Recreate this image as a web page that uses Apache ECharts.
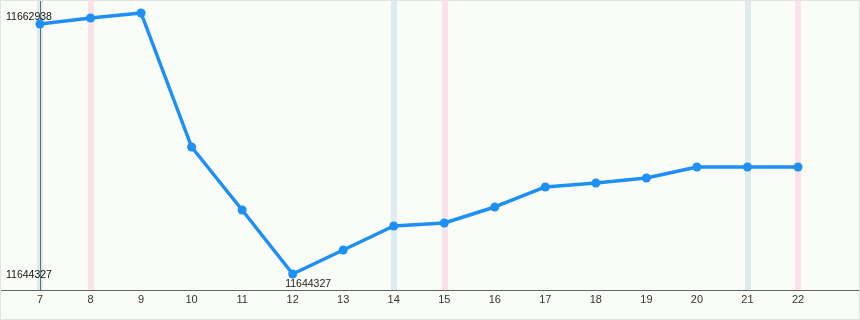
<!DOCTYPE html>
<html>
<head>
<meta charset="utf-8">
<script src="https://cdn.jsdelivr.net/npm/echarts@6/dist/echarts.min.js"></script>
<style>
  html, body { margin: 0; padding: 0; background: #ffffff; }
  #wrap { width: 860px; height: 320px; box-sizing: border-box; border: 1px solid #e2e4e0; background: #fafcf8; }
  #chart { width: 858px; height: 318px; }
</style>
</head>
<body>
<div id="wrap"><div id="chart"></div></div>
<script>
const days = [7, 8, 9, 10, 11, 12, 13, 14, 15, 16, 17, 18, 19, 20, 21, 22];
const values = [11662154, 11662582, 11662938, 11653383, 11648891, 11644327, 11646038, 11647750,
                11647964, 11649105, 11650531, 11650816, 11651173, 11651957, 11651957, 11651957];
const blueDays = [7, 14, 21];
const pinkDays = [8, 15, 22];
const yTickValues = [11644327, 11662938];
const xMin = 6.2282, xMax = 23.207;
const yMin = 11643186, yMax = 11663794;

const minIdx = values.indexOf(Math.min(...values));
const maxVal = Math.max(...values);

const lineData = days.map((d, i) => {
  const item = { value: [d, values[i]] };
  if (i === minIdx) {
    item.label = {
      show: true, position: [-3, 9], align: 'left', verticalAlign: 'top',
      color: '#222', fontSize: 10.5, fontFamily: 'Liberation Sans, Arial, sans-serif',
      formatter: p => String(p.value[1])
    };
  }
  return item;
});

const bandLines = [].concat(
  blueDays.map(d => ({ xAxis: d, lineStyle: { color: '#dcedf1', width: 6, type: 'solid' } })),
  pinkDays.map(d => ({ xAxis: d, lineStyle: { color: '#fae1ec', width: 6, type: 'solid' } })),
  [{ xAxis: days[0], lineStyle: { color: '#5f6d70', width: 1, type: 'solid' } }]
);

const chart = echarts.init(document.getElementById('chart'), null, { renderer: 'canvas' });
chart.setOption({
  backgroundColor: 'transparent',
  animation: false,
  grid: { left: 0, right: 0, top: 0, bottom: 29, containLabel: false },
  xAxis: {
    type: 'value', min: xMin, max: xMax,
    splitLine: { show: false },
    axisTick: { show: false },
    axisLine: { show: true, onZero: false, lineStyle: { color: '#666', width: 1 } },
    axisLabel: {
      customValues: days, margin: 4, color: '#333', fontSize: 11,
      fontFamily: 'Liberation Sans, Arial, sans-serif', showMinLabel: true, showMaxLabel: true
    }
  },
  yAxis: {
    type: 'value', min: yMin, max: yMax, z: 20,
    splitLine: { show: false },
    axisTick: { show: false },
    axisLine: { show: false },
    axisLabel: {
      inside: true, customValues: yTickValues, margin: 5, color: '#111',
      fontSize: 10.5, fontFamily: 'Liberation Sans, Arial, sans-serif',
      formatter: v => (v === maxVal ? '{t|' + v + '}' : '{b|' + v + '}'),
      rich: {
        t: { fontSize: 10.5, color: '#111', padding: [8, 0, 0, 0], fontFamily: 'Liberation Sans, Arial, sans-serif' },
        b: { fontSize: 10.5, color: '#111', padding: [2, 0, 0, 0], fontFamily: 'Liberation Sans, Arial, sans-serif' }
      }
    }
  },
  series: [
    {
      type: 'line', data: [], silent: true,
      markLine: { silent: true, symbol: 'none', label: { show: false }, data: bandLines, animation: false }
    },
    {
      type: 'line', data: lineData, z: 5,
      lineStyle: { color: '#1e8ff5', width: 3.5 },
      itemStyle: { color: '#1e8ff5' },
      symbol: 'circle', symbolSize: 9, showAllSymbol: true
    }
  ]
});
</script>
</body>
</html>
